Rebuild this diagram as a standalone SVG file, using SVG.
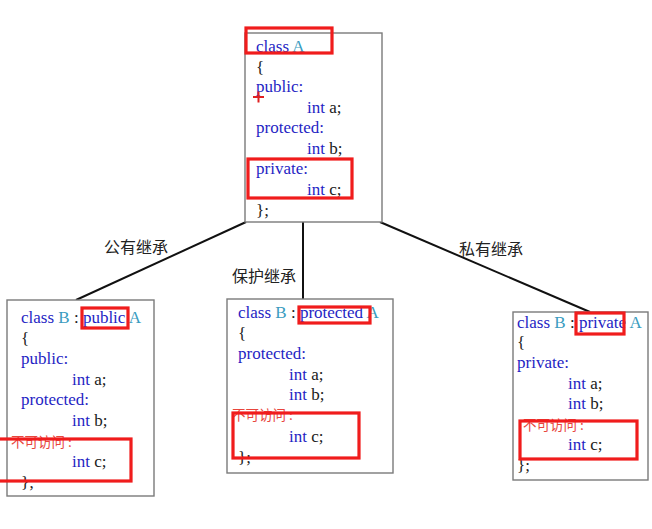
<svg xmlns="http://www.w3.org/2000/svg" width="652" height="529" viewBox="0 0 652 529">
<style>
.box{fill:#fff;stroke:#7a7a7a;stroke-width:1.4}
.code{font-family:"Liberation Serif","Times New Roman",serif;font-size:17px;fill:#1f1fc4}
.dk{fill:#1a1a1a}
.tl{fill:#3a9cbf}
.na{font-family:"Noto Sans CJK SC","Noto Sans",sans-serif;font-size:13.5px;fill:#e8453c}
.lbl{font-family:"Noto Sans CJK SC","Noto Sans",sans-serif;font-size:16px;fill:#222}
.hl{fill:none;stroke:#f01c1c;stroke-width:3.2}
.edge{stroke:#111;stroke-width:2;fill:none}
</style>
<rect width="652" height="529" fill="#fff"/>
<g id="connectors">
<line class="edge" x1="246" y1="222" x2="76" y2="300"/>
<line class="edge" x1="303" y1="222" x2="303" y2="299"/>
<line class="edge" x1="380" y1="222" x2="590" y2="312"/>
<text class="lbl" x="104" y="253">公有继承</text>
<text class="lbl" x="232" y="282">保护继承</text>
<text class="lbl" x="459" y="255">私有继承</text>
</g>
<g id="classA">
<rect class="box" x="245" y="33" width="137" height="189"/>
<text class="code" x="256" y="52">class <tspan class="tl">A</tspan></text>
<text class="code dk" x="256" y="73">{</text>
<text class="code" x="256" y="92">public:</text>
<text class="code" x="307" y="113">int <tspan class="dk">a;</tspan></text>
<text class="code" x="256" y="133">protected:</text>
<text class="code" x="307" y="154">int <tspan class="dk">b;</tspan></text>
<text class="code" x="256" y="174">private:</text>
<text class="code" x="307" y="195">int <tspan class="dk">c;</tspan></text>
<text class="code dk" x="256" y="216">};</text>
<rect class="hl" x="246" y="28" width="86" height="25"/>
<rect class="hl" x="248" y="159" width="104" height="39"/>
<path d="M253 97h11M258.5 91.5v11" stroke="#e02020" stroke-width="2"/>
</g>
<g id="classB_public">
<rect class="box" x="7" y="300" width="147" height="196"/>
<text class="code" x="21" y="323">class <tspan class="tl">B</tspan><tspan class="dk"> : </tspan>public <tspan class="tl">A</tspan></text>
<text class="code dk" x="21" y="344">{</text>
<text class="code" x="21" y="364">public:</text>
<text class="code" x="72" y="385">int <tspan class="dk">a;</tspan></text>
<text class="code" x="21" y="405">protected:</text>
<text class="code" x="72" y="426">int <tspan class="dk">b;</tspan></text>
<text class="na" x="11" y="447">不可访问 :</text>
<text class="code" x="72" y="467">int <tspan class="dk">c;</tspan></text>
<text class="code dk" x="21" y="488">};</text>
<rect class="hl" x="82" y="308" width="46" height="20"/>
<rect class="hl" x="-3" y="439" width="134" height="42"/>
</g>
<g id="classB_protected">
<rect class="box" x="227" y="299" width="166" height="174"/>
<text class="code" x="238" y="318">class <tspan class="tl">B</tspan><tspan class="dk"> : </tspan>protected <tspan class="tl">A</tspan></text>
<text class="code dk" x="238" y="339">{</text>
<text class="code" x="238" y="359">protected:</text>
<text class="code" x="289" y="380">int <tspan class="dk">a;</tspan></text>
<text class="code" x="289" y="400">int <tspan class="dk">b;</tspan></text>
<text class="na" x="232" y="420">不可访问 :</text>
<text class="code" x="289" y="442">int <tspan class="dk">c;</tspan></text>
<text class="code dk" x="238" y="463">};</text>
<rect class="hl" x="299" y="307" width="71" height="16"/>
<rect class="hl" x="233" y="413" width="126" height="45"/>
</g>
<g id="classB_private">
<rect class="box" x="513" y="312" width="135" height="168"/>
<text class="code" x="517" y="328">class <tspan class="tl">B</tspan><tspan class="dk"> : </tspan>private <tspan class="tl">A</tspan></text>
<text class="code dk" x="517" y="348">{</text>
<text class="code" x="517" y="368">private:</text>
<text class="code" x="568" y="389">int <tspan class="dk">a;</tspan></text>
<text class="code" x="568" y="409">int <tspan class="dk">b;</tspan></text>
<text class="na" x="523" y="430">不可访问 :</text>
<text class="code" x="568" y="450">int <tspan class="dk">c;</tspan></text>
<text class="code dk" x="517" y="471">};</text>
<rect class="hl" x="576" y="313" width="48" height="21"/>
<rect class="hl" x="520" y="421" width="117" height="38"/>
</g>
</svg>
